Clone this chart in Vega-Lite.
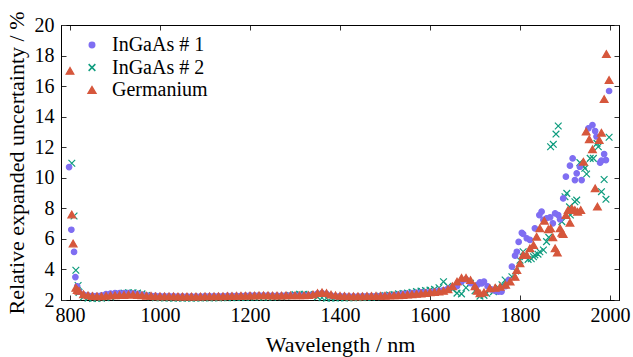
{
 "$schema": "https://vega.github.io/schema/vega-lite/v6.json",
 "width": 558, "height": 275,
 "autosize": {"type": "none"},
 "padding": {"left": 61, "top": 25, "right": 14, "bottom": 57},
 "background": "white",
 "config": {
  "view": {"stroke": "black", "strokeWidth": 1},
  "font": "Liberation Serif",
  "axis": {"labelFont": "Liberation Serif", "titleFont": "Liberation Serif", "labelFontSize": 20, "titleFontSize": 22, "titleFontWeight": "normal", "labelColor": "black", "titleColor": "black", "domainColor": "black", "tickColor": "#333", "grid": false, "tickSize": -5, "labelFlush": false},
  "legend": {"labelFont": "Liberation Serif", "labelFontSize": 20, "labelColor": "black", "orient": "none", "legendX": 21, "legendY": 10, "rowPadding": 2.5, "labelOffset": 10, "padding": 0}
 },
 "data": {"values": [
  {"w": 798, "InGaAs # 1": 10.7},
  {"w": 800, "Germanium": 17.0},
  {"w": 803, "InGaAs # 1": 6.6},
  {"w": 804, "InGaAs # 2": 10.95, "Germanium": 7.6},
  {"w": 807, "Germanium": 5.7},
  {"w": 809, "InGaAs # 1": 5.15, "InGaAs # 2": 7.5},
  {"w": 812, "InGaAs # 1": 3.5},
  {"w": 813, "InGaAs # 2": 3.95, "Germanium": 2.8},
  {"w": 816, "InGaAs # 1": 2.9, "Germanium": 2.65},
  {"w": 818, "InGaAs # 2": 2.95},
  {"w": 820, "InGaAs # 1": 2.55, "InGaAs # 2": 2.5, "Germanium": 2.6},
  {"w": 830, "InGaAs # 1": 2.35, "InGaAs # 2": 2.2, "Germanium": 2.38},
  {"w": 840, "InGaAs # 1": 2.3, "InGaAs # 2": 2.12, "Germanium": 2.3},
  {"w": 850, "InGaAs # 1": 2.28, "InGaAs # 2": 2.1, "Germanium": 2.26},
  {"w": 860, "InGaAs # 1": 2.28, "InGaAs # 2": 2.1, "Germanium": 2.25},
  {"w": 870, "InGaAs # 1": 2.3, "InGaAs # 2": 2.12, "Germanium": 2.25},
  {"w": 880, "InGaAs # 1": 2.38, "InGaAs # 2": 2.15, "Germanium": 2.27},
  {"w": 890, "InGaAs # 1": 2.42, "InGaAs # 2": 2.2, "Germanium": 2.3},
  {"w": 900, "InGaAs # 1": 2.45, "InGaAs # 2": 2.3, "Germanium": 2.3},
  {"w": 910, "InGaAs # 1": 2.45, "InGaAs # 2": 2.4, "Germanium": 2.32},
  {"w": 920, "InGaAs # 1": 2.45, "InGaAs # 2": 2.45, "Germanium": 2.33},
  {"w": 930, "InGaAs # 1": 2.45, "InGaAs # 2": 2.48, "Germanium": 2.35},
  {"w": 940, "InGaAs # 1": 2.43, "InGaAs # 2": 2.48, "Germanium": 2.35},
  {"w": 950, "InGaAs # 1": 2.4, "InGaAs # 2": 2.45, "Germanium": 2.33},
  {"w": 960, "InGaAs # 1": 2.35, "InGaAs # 2": 2.4, "Germanium": 2.3},
  {"w": 970, "InGaAs # 1": 2.3, "InGaAs # 2": 2.3, "Germanium": 2.28},
  {"w": 980, "InGaAs # 1": 2.28, "InGaAs # 2": 2.2, "Germanium": 2.27},
  {"w": 990, "InGaAs # 1": 2.27, "InGaAs # 2": 2.15, "Germanium": 2.25},
  {"w": 1000, "InGaAs # 1": 2.26, "InGaAs # 2": 2.14, "Germanium": 2.25},
  {"w": 1010, "InGaAs # 1": 2.25, "InGaAs # 2": 2.13, "Germanium": 2.24},
  {"w": 1020, "InGaAs # 1": 2.25, "InGaAs # 2": 2.12, "Germanium": 2.24},
  {"w": 1030, "InGaAs # 1": 2.25, "InGaAs # 2": 2.12, "Germanium": 2.24},
  {"w": 1040, "InGaAs # 1": 2.24, "InGaAs # 2": 2.12, "Germanium": 2.23},
  {"w": 1050, "InGaAs # 1": 2.24, "InGaAs # 2": 2.12, "Germanium": 2.23},
  {"w": 1060, "InGaAs # 1": 2.24, "InGaAs # 2": 2.12, "Germanium": 2.23},
  {"w": 1070, "InGaAs # 1": 2.24, "InGaAs # 2": 2.12, "Germanium": 2.23},
  {"w": 1080, "InGaAs # 1": 2.24, "InGaAs # 2": 2.12, "Germanium": 2.23},
  {"w": 1090, "InGaAs # 1": 2.24, "InGaAs # 2": 2.13, "Germanium": 2.23},
  {"w": 1100, "InGaAs # 1": 2.25, "InGaAs # 2": 2.13, "Germanium": 2.24},
  {"w": 1110, "InGaAs # 1": 2.25, "InGaAs # 2": 2.13, "Germanium": 2.24},
  {"w": 1120, "InGaAs # 1": 2.25, "InGaAs # 2": 2.14, "Germanium": 2.24},
  {"w": 1130, "InGaAs # 1": 2.26, "InGaAs # 2": 2.14, "Germanium": 2.25},
  {"w": 1140, "InGaAs # 1": 2.26, "InGaAs # 2": 2.15, "Germanium": 2.25},
  {"w": 1150, "InGaAs # 1": 2.27, "InGaAs # 2": 2.15, "Germanium": 2.26},
  {"w": 1160, "InGaAs # 1": 2.27, "InGaAs # 2": 2.15, "Germanium": 2.26},
  {"w": 1170, "InGaAs # 1": 2.28, "InGaAs # 2": 2.16, "Germanium": 2.27},
  {"w": 1180, "InGaAs # 1": 2.28, "InGaAs # 2": 2.17, "Germanium": 2.28},
  {"w": 1190, "InGaAs # 1": 2.29, "InGaAs # 2": 2.17, "Germanium": 2.28},
  {"w": 1200, "InGaAs # 1": 2.3, "InGaAs # 2": 2.18, "Germanium": 2.29},
  {"w": 1210, "InGaAs # 1": 2.3, "InGaAs # 2": 2.18, "Germanium": 2.29},
  {"w": 1220, "InGaAs # 1": 2.3, "InGaAs # 2": 2.18, "Germanium": 2.3},
  {"w": 1230, "InGaAs # 1": 2.3, "InGaAs # 2": 2.18, "Germanium": 2.3},
  {"w": 1240, "InGaAs # 1": 2.3, "InGaAs # 2": 2.18, "Germanium": 2.3},
  {"w": 1250, "InGaAs # 1": 2.29, "InGaAs # 2": 2.18, "Germanium": 2.29},
  {"w": 1260, "InGaAs # 1": 2.29, "InGaAs # 2": 2.2, "Germanium": 2.29},
  {"w": 1270, "InGaAs # 1": 2.29, "InGaAs # 2": 2.22, "Germanium": 2.29},
  {"w": 1280, "InGaAs # 1": 2.3, "InGaAs # 2": 2.25, "Germanium": 2.3},
  {"w": 1290, "InGaAs # 1": 2.3, "InGaAs # 2": 2.3, "Germanium": 2.3},
  {"w": 1300, "InGaAs # 1": 2.3, "InGaAs # 2": 2.35, "Germanium": 2.3},
  {"w": 1310, "InGaAs # 1": 2.3, "InGaAs # 2": 2.38, "Germanium": 2.3},
  {"w": 1320, "InGaAs # 1": 2.3, "InGaAs # 2": 2.38, "Germanium": 2.3},
  {"w": 1330, "InGaAs # 1": 2.32, "InGaAs # 2": 2.35, "Germanium": 2.32},
  {"w": 1340, "InGaAs # 1": 2.35, "InGaAs # 2": 2.3, "Germanium": 2.36},
  {"w": 1350, "InGaAs # 1": 2.42, "InGaAs # 2": 2.2, "Germanium": 2.45},
  {"w": 1360, "InGaAs # 1": 2.45, "InGaAs # 2": 2.15, "Germanium": 2.5},
  {"w": 1370, "InGaAs # 1": 2.4, "InGaAs # 2": 2.12, "Germanium": 2.45},
  {"w": 1380, "InGaAs # 1": 2.3, "InGaAs # 2": 2.12, "Germanium": 2.35},
  {"w": 1390, "InGaAs # 1": 2.26, "InGaAs # 2": 2.13, "Germanium": 2.3},
  {"w": 1400, "InGaAs # 1": 2.25, "InGaAs # 2": 2.14, "Germanium": 2.27},
  {"w": 1410, "InGaAs # 1": 2.25, "InGaAs # 2": 2.14, "Germanium": 2.26},
  {"w": 1420, "InGaAs # 1": 2.24, "InGaAs # 2": 2.14, "Germanium": 2.25},
  {"w": 1430, "InGaAs # 1": 2.24, "InGaAs # 2": 2.15, "Germanium": 2.25},
  {"w": 1440, "InGaAs # 1": 2.24, "InGaAs # 2": 2.15, "Germanium": 2.25},
  {"w": 1450, "InGaAs # 1": 2.25, "InGaAs # 2": 2.16, "Germanium": 2.25},
  {"w": 1460, "InGaAs # 1": 2.25, "InGaAs # 2": 2.17, "Germanium": 2.26},
  {"w": 1470, "InGaAs # 1": 2.26, "InGaAs # 2": 2.18, "Germanium": 2.26},
  {"w": 1480, "InGaAs # 1": 2.26, "InGaAs # 2": 2.2, "Germanium": 2.27},
  {"w": 1490, "InGaAs # 1": 2.27, "InGaAs # 2": 2.25, "Germanium": 2.27},
  {"w": 1500, "InGaAs # 1": 2.28, "InGaAs # 2": 2.3, "Germanium": 2.28},
  {"w": 1510, "InGaAs # 1": 2.29, "InGaAs # 2": 2.33, "Germanium": 2.29},
  {"w": 1520, "InGaAs # 1": 2.31, "InGaAs # 2": 2.35, "Germanium": 2.3},
  {"w": 1530, "InGaAs # 1": 2.35, "InGaAs # 2": 2.4, "Germanium": 2.31},
  {"w": 1540, "InGaAs # 1": 2.4, "InGaAs # 2": 2.42, "Germanium": 2.33},
  {"w": 1550, "InGaAs # 1": 2.42, "InGaAs # 2": 2.45, "Germanium": 2.35},
  {"w": 1560, "InGaAs # 1": 2.45, "InGaAs # 2": 2.5, "Germanium": 2.38},
  {"w": 1570, "InGaAs # 1": 2.47, "InGaAs # 2": 2.55, "Germanium": 2.4},
  {"w": 1580, "InGaAs # 1": 2.5, "InGaAs # 2": 2.58, "Germanium": 2.42},
  {"w": 1590, "InGaAs # 1": 2.5, "InGaAs # 2": 2.62, "Germanium": 2.45},
  {"w": 1600, "InGaAs # 1": 2.52, "InGaAs # 2": 2.65, "Germanium": 2.5},
  {"w": 1610, "InGaAs # 1": 2.55, "InGaAs # 2": 2.7, "Germanium": 2.52},
  {"w": 1620, "InGaAs # 1": 2.6, "InGaAs # 2": 2.8, "Germanium": 2.55},
  {"w": 1630, "InGaAs # 1": 2.65, "InGaAs # 2": 3.2, "Germanium": 2.6},
  {"w": 1640, "InGaAs # 1": 2.75, "InGaAs # 2": 2.9, "Germanium": 2.7},
  {"w": 1650, "InGaAs # 1": 2.85, "InGaAs # 2": 2.7, "Germanium": 2.9},
  {"w": 1660, "InGaAs # 1": 2.9, "InGaAs # 2": 2.45, "Germanium": 3.2},
  {"w": 1670, "InGaAs # 1": 3.2, "InGaAs # 2": 2.4, "Germanium": 3.45},
  {"w": 1680, "InGaAs # 1": 3.35, "InGaAs # 2": 2.8, "Germanium": 3.45},
  {"w": 1690, "InGaAs # 1": 3.1, "InGaAs # 2": 3.1, "Germanium": 3.3},
  {"w": 1700, "InGaAs # 1": 2.9, "InGaAs # 2": 2.6, "Germanium": 2.9},
  {"w": 1705, "Germanium": 2.6},
  {"w": 1706, "InGaAs # 1": 3.0},
  {"w": 1711, "InGaAs # 1": 3.15, "InGaAs # 2": 2.25, "Germanium": 2.44},
  {"w": 1715, "InGaAs # 1": 3.09},
  {"w": 1720, "InGaAs # 1": 3.2, "InGaAs # 2": 2.3, "Germanium": 2.5},
  {"w": 1726, "InGaAs # 2": 2.44},
  {"w": 1728, "InGaAs # 1": 2.9},
  {"w": 1733, "Germanium": 2.77},
  {"w": 1736, "InGaAs # 1": 2.7},
  {"w": 1741, "InGaAs # 2": 2.55},
  {"w": 1745, "InGaAs # 1": 2.6, "Germanium": 2.8},
  {"w": 1752, "InGaAs # 1": 2.55, "InGaAs # 2": 2.8},
  {"w": 1756, "Germanium": 2.87},
  {"w": 1759, "InGaAs # 1": 2.55},
  {"w": 1760, "InGaAs # 2": 3.0},
  {"w": 1767, "InGaAs # 2": 3.31},
  {"w": 1768, "InGaAs # 1": 2.9, "Germanium": 3.0},
  {"w": 1775, "InGaAs # 1": 3.3},
  {"w": 1778, "Germanium": 3.2},
  {"w": 1782, "InGaAs # 1": 4.18, "InGaAs # 2": 3.52},
  {"w": 1789, "InGaAs # 1": 4.9, "Germanium": 3.52},
  {"w": 1790, "InGaAs # 2": 3.9},
  {"w": 1793, "InGaAs # 1": 5.16, "Germanium": 3.96},
  {"w": 1797, "InGaAs # 1": 5.8},
  {"w": 1800, "InGaAs # 2": 4.6, "Germanium": 4.4},
  {"w": 1804, "InGaAs # 1": 6.4},
  {"w": 1807, "InGaAs # 1": 6.32, "InGaAs # 2": 5.16, "Germanium": 4.95},
  {"w": 1811, "InGaAs # 2": 4.83},
  {"w": 1815, "InGaAs # 1": 6.04, "Germanium": 4.95},
  {"w": 1818, "InGaAs # 2": 4.66},
  {"w": 1822, "InGaAs # 1": 5.93, "Germanium": 5.38},
  {"w": 1825, "InGaAs # 2": 4.7},
  {"w": 1830, "InGaAs # 2": 4.83, "Germanium": 5.6},
  {"w": 1833, "InGaAs # 1": 6.69, "InGaAs # 2": 4.95},
  {"w": 1837, "Germanium": 6.14},
  {"w": 1840, "InGaAs # 2": 5.0},
  {"w": 1843, "InGaAs # 1": 7.56},
  {"w": 1844, "InGaAs # 2": 5.16, "Germanium": 6.69},
  {"w": 1848, "InGaAs # 1": 7.78},
  {"w": 1852, "InGaAs # 1": 7.24, "InGaAs # 2": 5.27},
  {"w": 1854, "Germanium": 7.19},
  {"w": 1859, "InGaAs # 1": 7.35, "InGaAs # 2": 5.82},
  {"w": 1863, "Germanium": 6.63},
  {"w": 1864, "InGaAs # 2": 6.1},
  {"w": 1867, "InGaAs # 1": 7.41},
  {"w": 1868, "InGaAs # 2": 12.03, "Germanium": 6.69},
  {"w": 1873, "InGaAs # 1": 7.02, "Germanium": 6.1},
  {"w": 1874, "InGaAs # 2": 12.19},
  {"w": 1878, "InGaAs # 1": 7.67, "Germanium": 5.38},
  {"w": 1880, "InGaAs # 2": 12.86},
  {"w": 1883, "Germanium": 5.1},
  {"w": 1885, "InGaAs # 1": 7.56, "InGaAs # 2": 13.39},
  {"w": 1889, "InGaAs # 1": 7.28, "Germanium": 6.69},
  {"w": 1893, "InGaAs # 2": 7.13, "Germanium": 6.4},
  {"w": 1896, "InGaAs # 1": 8.65, "Germanium": 6.32},
  {"w": 1900, "InGaAs # 2": 8.76},
  {"w": 1902, "InGaAs # 1": 10.07, "Germanium": 7.56},
  {"w": 1904, "InGaAs # 2": 8.98},
  {"w": 1907, "Germanium": 7.89},
  {"w": 1910, "InGaAs # 2": 8.1},
  {"w": 1911, "InGaAs # 1": 10.79, "Germanium": 7.06},
  {"w": 1912, "InGaAs # 2": 7.56},
  {"w": 1915, "Germanium": 8.0},
  {"w": 1917, "InGaAs # 1": 11.27},
  {"w": 1922, "InGaAs # 1": 9.85, "InGaAs # 2": 8.43, "Germanium": 7.89},
  {"w": 1926, "InGaAs # 1": 10.29, "InGaAs # 2": 8.54},
  {"w": 1928, "Germanium": 7.78},
  {"w": 1933, "InGaAs # 1": 10.72, "InGaAs # 2": 10.99},
  {"w": 1935, "Germanium": 7.89},
  {"w": 1937, "InGaAs # 1": 9.85},
  {"w": 1941, "InGaAs # 2": 10.77, "Germanium": 11.05},
  {"w": 1944, "InGaAs # 2": 10.62},
  {"w": 1947, "Germanium": 13.02},
  {"w": 1948, "InGaAs # 2": 10.25},
  {"w": 1952, "InGaAs # 1": 13.24},
  {"w": 1954, "Germanium": 12.52},
  {"w": 1956, "InGaAs # 2": 11.27},
  {"w": 1961, "InGaAs # 1": 13.45, "Germanium": 11.86},
  {"w": 1963, "InGaAs # 2": 11.27},
  {"w": 1967, "InGaAs # 1": 13.06, "Germanium": 9.31},
  {"w": 1970, "InGaAs # 1": 12.7},
  {"w": 1971, "InGaAs # 2": 12.25},
  {"w": 1972, "Germanium": 8.11},
  {"w": 1974, "InGaAs # 2": 12.03},
  {"w": 1976, "Germanium": 12.47},
  {"w": 1978, "InGaAs # 1": 10.99},
  {"w": 1981, "InGaAs # 1": 11.12, "InGaAs # 2": 9.09, "Germanium": 12.95},
  {"w": 1987, "InGaAs # 1": 11.55, "InGaAs # 2": 9.89, "Germanium": 15.15},
  {"w": 1991, "InGaAs # 1": 11.16, "InGaAs # 2": 8.59},
  {"w": 1992, "Germanium": 18.1},
  {"w": 1998, "InGaAs # 1": 15.68, "InGaAs # 2": 12.65, "Germanium": 16.4}
 ]},
 "transform": [
  {"fold": ["InGaAs # 1", "InGaAs # 2", "Germanium"], "as": ["s", "v"]},
  {"filter": "datum.v != null"}
 ],
 "layer": [
  {
   "mark": {"type": "point", "strokeWidth": 1.2, "opacity": 1},
   "encoding": {
    "x": {"field": "w", "type": "quantitative", "scale": {"domain": [780, 2020], "nice": false, "zero": false},
          "axis": {"values": [800, 1000, 1200, 1400, 1600, 1800, 2000], "format": "d", "title": "Wavelength / nm", "labelPadding": 10, "titlePadding": 9}},
    "y": {"field": "v", "type": "quantitative", "scale": {"domain": [2, 20], "nice": false, "zero": false},
          "axis": {"values": [2, 4, 6, 8, 10, 12, 14, 16, 18, 20], "format": "d", "title": "Relative expanded uncertainty / %", "labelPadding": 12, "titlePadding": 6}},
    "shape": {"field": "s", "type": "nominal", "title": null,
              "scale": {"domain": ["InGaAs # 1", "InGaAs # 2", "Germanium"], "range": ["circle", "M-1,-1L1,1M-1,1L1,-1", "triangle-up"]}},
    "fill": {"field": "s", "type": "nominal", "title": null,
             "scale": {"domain": ["InGaAs # 1", "InGaAs # 2", "Germanium"], "range": ["#7f6ef2", "transparent", "#d6573c"]}},
    "stroke": {"field": "s", "type": "nominal", "title": null,
               "scale": {"domain": ["InGaAs # 1", "InGaAs # 2", "Germanium"], "range": ["#7f6ef2", "#0e9c7e", "#d6573c"]}},
    "size": {"field": "s", "type": "nominal", "title": null,
             "scale": {"domain": ["InGaAs # 1", "InGaAs # 2", "Germanium"], "range": [30, 60, 58]}},
    "order": {"field": "s", "sort": "descending"}
   }
  },
  {
   "mark": {"type": "point", "opacity": 0},
   "encoding": {
    "x": {"field": "w", "type": "quantitative", "axis": {"orient": "top", "values": [800, 1000, 1200, 1400, 1600, 1800, 2000], "labels": false, "title": null}},
    "y": {"field": "v", "type": "quantitative", "axis": {"orient": "right", "values": [2, 4, 6, 8, 10, 12, 14, 16, 18, 20], "labels": false, "title": null}}
   }
  }
 ],
 "resolve": {"axis": {"x": "independent", "y": "independent"}}
}
